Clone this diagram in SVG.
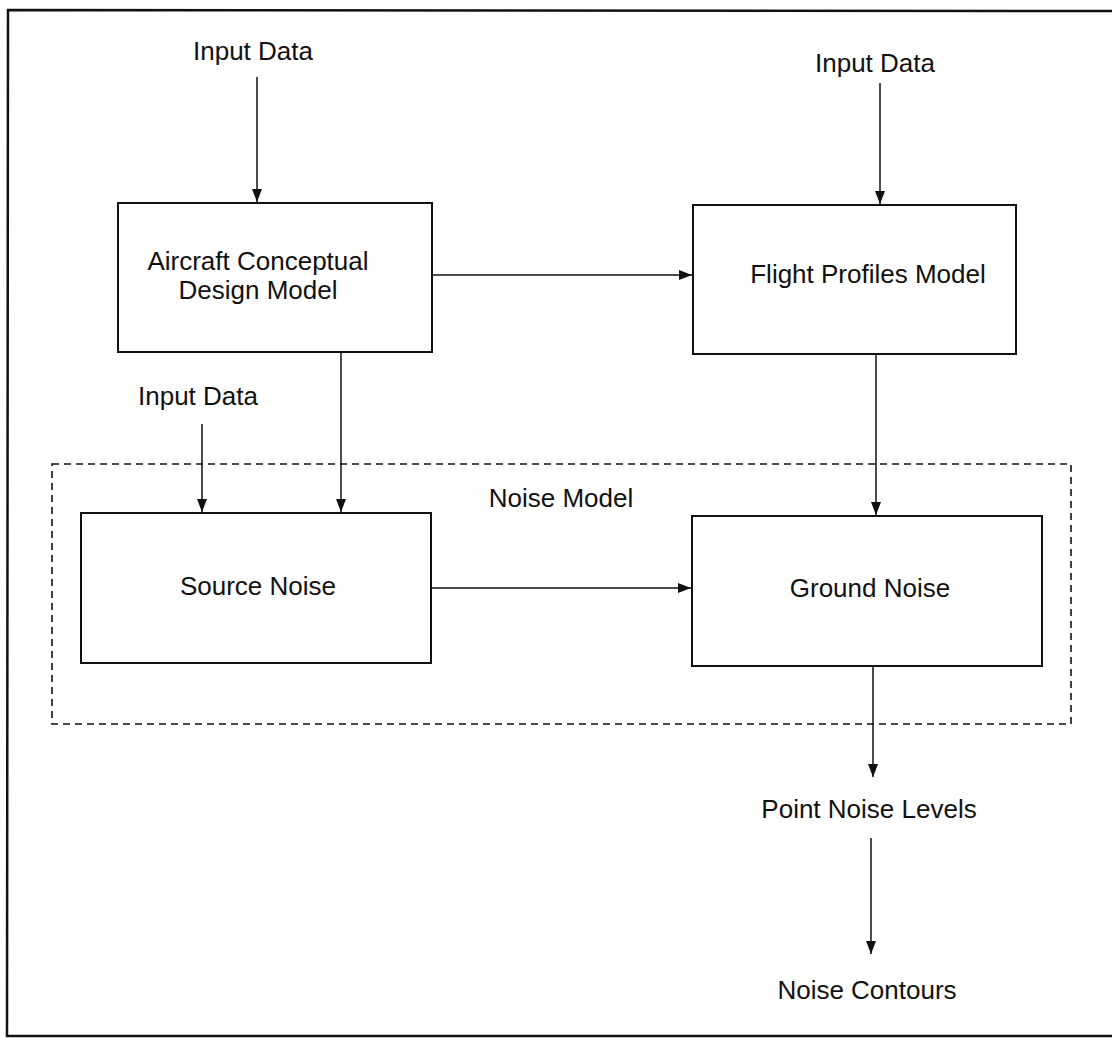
<svg xmlns="http://www.w3.org/2000/svg" width="1112" height="1039" viewBox="0 0 1112 1039">
  <style>
    text { font-family: "Liberation Sans", Arial, sans-serif; font-size: 26px; fill: #111; text-anchor: middle; }
    .box { fill: #fff; stroke: #111; stroke-width: 2; }
    .wire { fill: none; stroke: #111; stroke-width: 1.5; }
    .group { fill: none; stroke: #111; stroke-width: 1.6; stroke-dasharray: 7 5; }
  </style>
  <defs>
    <marker id="arrow" viewBox="0 0 13 10" refX="13" refY="5" markerWidth="13" markerHeight="10" markerUnits="userSpaceOnUse" orient="auto">
      <path d="M0,0 L13,5 L0,10 Z" fill="#111"/>
    </marker>
  </defs>

  <rect width="1112" height="1039" fill="#fff"/>
  <!-- outer frame -->
  <path d="M1114,11 L8,10 L7,1036 L1114,1036" fill="none" stroke="#111" stroke-width="2.5"/>

  <!-- noise model grouping -->
  <g id="noise-model">
    <rect class="group" x="52" y="464" width="1019" height="260"/>
    <text x="561" y="507">Noise Model</text>
  </g>

  <g id="input-data-1"><text x="253" y="60">Input Data</text></g>
  <g id="input-data-2"><text x="875" y="72">Input Data</text></g>
  <g id="input-data-3"><text x="198" y="405">Input Data</text></g>

  <g id="aircraft-design">
    <rect class="box" x="118" y="203" width="314" height="149"/>
    <text x="258" y="270">Aircraft Conceptual</text>
    <text x="258" y="299">Design Model</text>
  </g>

  <g id="flight-profiles">
    <rect class="box" x="693" y="205" width="323" height="149"/>
    <text x="868" y="283">Flight Profiles Model</text>
  </g>

  <g id="source-noise">
    <rect class="box" x="81" y="513" width="350" height="150"/>
    <text x="258" y="595">Source Noise</text>
  </g>

  <g id="ground-noise">
    <rect class="box" x="692" y="516" width="350" height="150"/>
    <text x="870" y="597">Ground Noise</text>
  </g>

  <g id="point-noise-levels"><text x="869" y="818">Point Noise Levels</text></g>
  <g id="noise-contours"><text x="867" y="999">Noise Contours</text></g>

  <g id="connectors">
    <line class="wire" x1="257" y1="77" x2="257" y2="202" marker-end="url(#arrow)"/>
    <line class="wire" x1="880" y1="83" x2="880" y2="204" marker-end="url(#arrow)"/>
    <line class="wire" x1="432" y1="275" x2="692" y2="275" marker-end="url(#arrow)"/>
    <line class="wire" x1="202" y1="424" x2="202" y2="512" marker-end="url(#arrow)"/>
    <line class="wire" x1="341" y1="353" x2="341" y2="512" marker-end="url(#arrow)"/>
    <line class="wire" x1="876" y1="354" x2="876" y2="515" marker-end="url(#arrow)"/>
    <line class="wire" x1="431" y1="588" x2="691" y2="588" marker-end="url(#arrow)"/>
    <line class="wire" x1="873" y1="666" x2="873" y2="777" marker-end="url(#arrow)"/>
    <line class="wire" x1="871" y1="838" x2="871" y2="954" marker-end="url(#arrow)"/>
  </g>
</svg>
